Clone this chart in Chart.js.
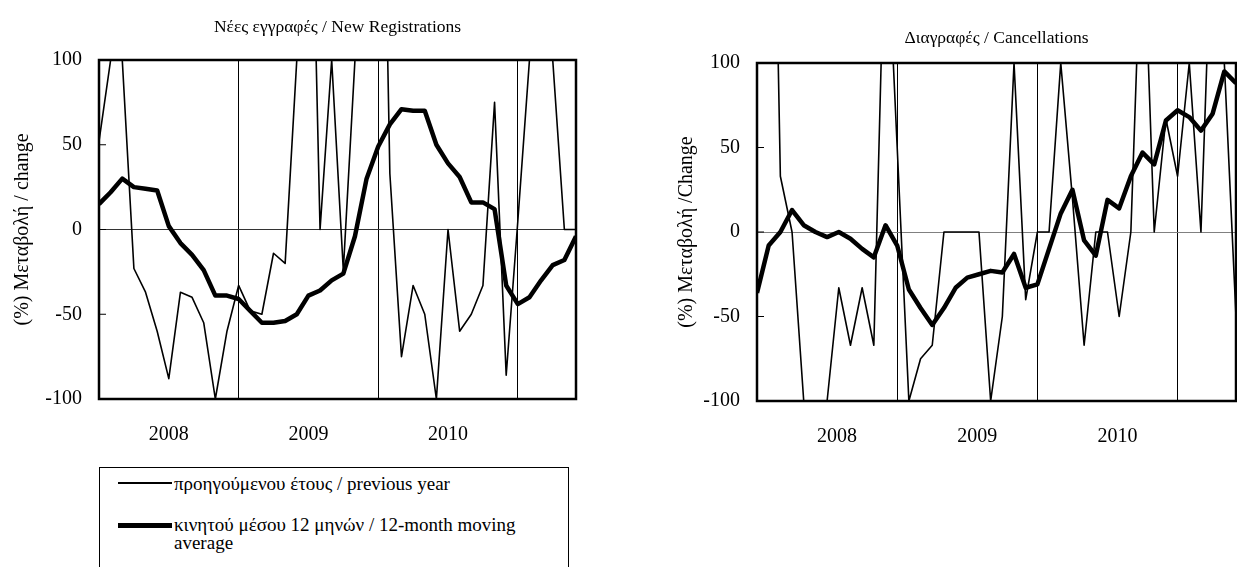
<!DOCTYPE html>
<html>
<head>
<meta charset="utf-8">
<script src="https://cdn.jsdelivr.net/npm/chart.js@4.4.1/dist/chart.umd.min.js"></script>
<style>
  html, body { margin: 0; padding: 0; background: #fff; overflow: hidden; }
  body { width: 1237px; height: 567px; position: relative; font-family: "Liberation Serif", "DejaVu Serif", serif; color: #000; }
  canvas { position: absolute; top: 0; }
  #newChart { left: 0; }
  #cancelChart { left: 660px; }
  .legend { position: absolute; left: 99px; top: 467px; width: 470px; height: 130px; border: 1px solid #000; box-sizing: border-box; font-size: 19px; }
  .row { position: absolute; left: 0; }
  .row1 { top: 6px; line-height: 20px; }
  .row2 { top: 48px; line-height: 18px; }
  .sample { position: absolute; left: 18px; width: 54px; height: 0; border-top: 2px solid #000; }
  .row1 .sample { top: 8px; }
  .row2 .sample { top: 7px; border-top-width: 5px; }
  .txt { position: absolute; left: 74px; width: 390px; white-space: normal; }
  .row1 .txt { white-space: nowrap; }
</style>
</head>
<body>
<canvas id="newChart" width="600" height="460"></canvas>
<canvas id="cancelChart" width="600" height="460"></canvas>
<div class="legend">
  <div class="row row1"><span class="sample"></span><span class="txt">προηγούμενου έτους / previous year</span></div>
  <div class="row row2"><span class="sample"></span><span class="txt">κινητού μέσου 12 μηνών / 12-month moving average</span></div>
</div>
<script>
// monthly observations, Jan 2008 - Jun 2011
const MONTHS = [
  "2008-01", "2008-02", "2008-03", "2008-04", "2008-05", "2008-06", "2008-07", "2008-08", "2008-09", "2008-10", "2008-11", "2008-12",
  "2009-01", "2009-02", "2009-03", "2009-04", "2009-05", "2009-06", "2009-07", "2009-08", "2009-09", "2009-10", "2009-11", "2009-12",
  "2010-01", "2010-02", "2010-03", "2010-04", "2010-05", "2010-06", "2010-07", "2010-08", "2010-09", "2010-10", "2010-11", "2010-12",
  "2011-01", "2011-02", "2011-03", "2011-04", "2011-05", "2011-06"
]
const Y_TICKS = [-100, -50, 0, 50, 100]

// Νέες εγγραφές
const newYoY = [52, 100, 100, -23, -37, -60, -88, -37, -40, -55, -100, -60, -33, -48, -50, -14, -20, 100, 300, 0, 100, -24, 100, 200, 400, 33,
  -75, -33, -50, -100, 0, -60, -50, -33, 75, -86, 5, 100, 200, 100, 0, 0]
const newMA12 = [15, 22, 30, 25, 24, 23, 2, -8, -15, -24, -39, -39, -41, -48, -55, -55, -54, -50, -39, -36, -30, -26, -4, 30, 49, 62,
  71, 70, 70, 50, 39, 31, 16, 16, 12, -33, -44, -40, -30, -21, -18, -4]

// Διαγραφές
const cancelYoY = [200, 400, 33, 0, -100, -100, -100, -33, -67, -33, -67, 200, 50, -100, -75, -67, 0, 0, 0, 0, -100, -50, 100, -40, 0, 0,
  100, 20, -67, 0, 0, -50, 0, 200, 0, 67, 33, 100, 0, 200, 100, -50]
const cancelMA12 = [-36, -8, 0, 13, 4, 0, -3, 0, -4, -10, -15, 4, -8, -34, -45, -55, -45, -33, -27, -25, -23, -24, -13, -33, -31, -10,
  11, 25, -5, -14, 19, 14, 33, 47, 40, 66, 72, 68, 60, 70, 95, 88]

const SERIES_NAMES = ["προηγούμενου έτους / previous year", "κινητού μέσου 12 μηνών / 12-month moving average"]
const FONT = "'Liberation Serif', 'DejaVu Serif', serif"

const framePlugin = {
  id: "frame",
  afterDatasetsDraw(chart) {
    const { ctx, chartArea: a, scales: { y } } = chart
    ctx.save()
    ctx.strokeStyle = "#000"
    ctx.lineWidth = 1
    Y_TICKS.forEach((v) => {
      const py = y.getPixelForValue(v)
      ctx.beginPath()
      ctx.moveTo(a.left, py)
      ctx.lineTo(a.left + 7, py)
      ctx.stroke()
    })
    ctx.lineWidth = 2.5
    ctx.strokeRect(a.left, a.top, a.right - a.left, a.bottom - a.top)
    ctx.restore()
  }
}

function makeChart(id, o) {
  return new Chart(document.getElementById(id), {
    type: "line",
    data: {
      labels: MONTHS,
      datasets: [
        { label: SERIES_NAMES[0], data: o.yoy, borderColor: "#000", borderWidth: 1.6, pointRadius: 0, tension: 0, clip: 0, borderJoinStyle: "round" },
        { label: SERIES_NAMES[1], data: o.ma, borderColor: "#000", borderWidth: 4.5, pointRadius: 0, tension: 0, clip: 0, borderJoinStyle: "round" }
      ]
    },
    options: {
      responsive: false,
      animation: false,
      devicePixelRatio: 1,
      layout: { padding: { left: 0, right: o.padRight, top: 0, bottom: 0 } },
      plugins: {
        legend: { display: false },
        tooltip: { enabled: false },
        title: {
          display: true,
          text: o.title,
          fullSize: false,
          color: "#000",
          font: { family: FONT, size: 17.5, weight: "normal" },
          padding: { top: o.titleTop, bottom: o.titleBottom }
        }
      },
      scales: {
        x: {
          type: "category",
          offset: false,
          border: { display: false },
          grid: {
            drawTicks: false,
            lineWidth: 1,
            color: (c) => (c.index > 0 && MONTHS[c.index] && MONTHS[c.index].endsWith("-01") ? "#000" : "rgba(0,0,0,0)")
          },
          ticks: {
            autoSkip: false,
            maxRotation: 0,
            padding: 24,
            labelOffset: o.labelOffset,
            color: "#000",
            font: { family: FONT, size: 20 },
            callback: (v, i) => (MONTHS[i].endsWith("-07") ? MONTHS[i].slice(0, 4) : "")
          },
          afterFit: (s) => { s.height = o.bottomSpace }
        },
        y: {
          min: -100,
          max: 100,
          border: { display: false },
          grid: {
            drawTicks: false,
            lineWidth: 1,
            color: (c) => (c.tick && c.tick.value === 0 ? o.zeroColor : "rgba(0,0,0,0)")
          },
          ticks: { stepSize: 50, padding: 17, color: "#000", font: { family: FONT, size: 20 } },
          title: {
            display: true,
            text: o.yTitle,
            color: "#000",
            font: { family: FONT, size: 20 },
            padding: { top: o.yTitlePad, bottom: 0 }
          },
          afterFit: (s) => { s.width = o.leftSpace }
        }
      }
    },
    plugins: [framePlugin]
  })
}

makeChart("newChart", {
  yoy: newYoY, ma: newMA12,
  title: "Νέες εγγραφές / New Registrations",
  yTitle: "(%) Μεταβολή / change",
  padRight: 23, leftSpace: 99, bottomSpace: 61,
  titleTop: 16.5, titleBottom: 22.5, yTitlePad: 11,
  labelOffset: 0, zeroColor: "#333"
})

makeChart("cancelChart", {
  yoy: cancelYoY, ma: cancelMA12,
  title: "Διαγραφές / Cancellations",
  yTitle: "(%) Μεταβολή /Change",
  padRight: 16, leftSpace: 97, bottomSpace: 59,
  titleTop: 27.5, titleBottom: 14.5, yTitlePad: 15,
  labelOffset: 10, zeroColor: "#808080"
})
</script>
</body>
</html>
